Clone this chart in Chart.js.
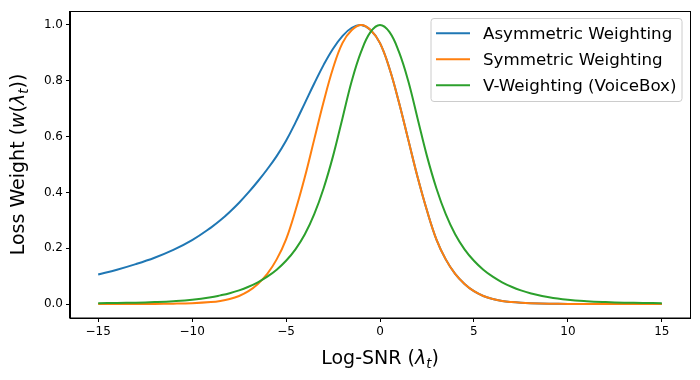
<!DOCTYPE html>
<html>
<head>
<meta charset="utf-8">
<script src="https://cdn.jsdelivr.net/npm/chart.js@4/dist/chart.umd.min.js"></script>
<style>
  body { margin: 0; background: #fff; }
  #wrap { width: 700px; height: 380px; }
</style>
</head>
<body>
<div id="wrap"><canvas id="myChart" width="700" height="380"></canvas></div>
<script>
// data
var lambdas = [-15, -14, -13, -12, -11, -10, -9, -8.5, -8, -7.5, -7, -6.5, -6, -5.5, -5, -4.5, -4, -3.5, -3, -2.5, -2, -1.5, -1,
    -0.5, 0, 0.5, 1, 1.5, 2, 2.5, 3, 3.5, 4, 4.5, 5, 5.5, 6, 6.5, 7, 7.5, 8, 9, 10, 11, 12, 13, 14, 15];

var asymWeight = [0.106, 0.123, 0.143, 0.166, 0.194, 0.229, 0.274, 0.30, 0.33, 0.363, 0.40, 0.44, 0.483, 0.53, 0.585, 0.65, 0.72, 0.79, 0.857, 0.915, 0.96, 0.99, 1.0,
    0.982, 0.935, 0.845, 0.725, 0.59, 0.455, 0.335, 0.232, 0.16, 0.108, 0.072, 0.046, 0.029, 0.018, 0.011, 0.007, 0.0045, 0.003, 0.0013, 0.0006, 0.0003, 0.0001, 0, 0, 0];

var symWeight = [0, 0.0001, 0.0003, 0.0006, 0.0013, 0.003, 0.007, 0.011, 0.018, 0.029, 0.046, 0.072, 0.108, 0.16, 0.232, 0.335, 0.455, 0.59, 0.725, 0.845, 0.935, 0.982, 1.0,
    0.982, 0.935, 0.845, 0.725, 0.59, 0.455, 0.335, 0.232, 0.16, 0.108, 0.072, 0.046, 0.029, 0.018, 0.011, 0.007, 0.0045, 0.003, 0.0013, 0.0006, 0.0003, 0.0001, 0, 0, 0];

var vWeight = [0.003, 0.004, 0.005, 0.007, 0.01, 0.015, 0.024, 0.031, 0.039, 0.049, 0.062, 0.078, 0.098, 0.123, 0.155, 0.196, 0.25, 0.322, 0.415, 0.53, 0.665, 0.80, 0.905,
    0.975, 1.0, 0.975, 0.905, 0.80, 0.665, 0.53, 0.415, 0.322, 0.25, 0.196, 0.155, 0.123, 0.098, 0.078, 0.062, 0.049, 0.039, 0.024, 0.015, 0.01, 0.007, 0.005, 0.004, 0.003];

var seriesNames = ['Asymmetric Weighting', 'Symmetric Weighting', 'V-Weighting (VoiceBox)'];
var seriesColors = ['#1f77b4', '#ff7f0e', '#2ca02c'];
var xTicks = [-15, -10, -5, 0, 5, 10, 15];
var yTicks = [0, 0.2, 0.4, 0.6, 0.8, 1.0];

function points(ys) {
    return lambdas.map(function(x, i) { return {x: x, y: ys[i]}; });
}

// text with italic / subscript parts (matplotlib mathtext look)
function drawRich(ctx, parts, size) {
    var total = 0;
    parts.forEach(function(p) {
        var s = p.sub ? size * 0.7 : size;
        ctx.font = (p.italic ? 'italic ' : '') + s + 'px "DejaVu Sans"';
        p.w = ctx.measureText(p.t).width;
        total += p.w;
    });
    var x = -total / 2;
    parts.forEach(function(p) {
        var s = p.sub ? size * 0.7 : size;
        ctx.font = (p.italic ? 'italic ' : '') + s + 'px "DejaVu Sans"';
        ctx.fillText(p.t, x, p.sub ? size * 0.22 : 0);
        x += p.w;
    });
}

var xTitle = [{t: 'Log-SNR ('}, {t: 'λ', italic: true}, {t: 't', italic: true, sub: true}, {t: ')'}];
var yTitle = [{t: 'Loss Weight ('}, {t: 'w', italic: true}, {t: '('}, {t: 'λ', italic: true}, {t: 't', italic: true, sub: true}, {t: '))'}];

var extras = {
    id: 'extras',
    afterDraw: function(chart) {
        var ctx = chart.ctx;
        var a = chart.chartArea;
        ctx.save();
        // frame
        ctx.strokeStyle = '#000';
        ctx.lineWidth = 1;
        ctx.strokeRect(Math.round(a.left) - 0.5, Math.round(a.top) + 0.5, Math.round(a.right - a.left) + 1, Math.round(a.bottom - a.top) - 0.5);

        // legend box
        var lx = 431, ly = 18.5, lw = 251, lh = 83;
        ctx.beginPath();
        ctx.roundRect(lx, ly, lw, lh, 3);
        ctx.fillStyle = 'rgba(255,255,255,0.8)';
        ctx.fill();
        ctx.strokeStyle = '#cccccc';
        ctx.stroke();
        ctx.font = '16.7px "DejaVu Sans"';
        ctx.textBaseline = 'alphabetic';
        chart.data.datasets.forEach(function(ds, i) {
            var ry = 33.3 + i * 26;
            ctx.strokeStyle = ds.borderColor;
            ctx.lineWidth = 2;
            ctx.beginPath();
            ctx.moveTo(436, ry);
            ctx.lineTo(470, ry);
            ctx.stroke();
            ctx.fillStyle = '#000';
            ctx.fillText(ds.label, 483, ry + 6);
        });

        // axis titles
        ctx.fillStyle = '#000';
        ctx.textBaseline = 'alphabetic';
        ctx.save();
        ctx.translate((a.left + a.right) / 2, 364);
        drawRich(ctx, xTitle, 19);
        ctx.restore();
        ctx.save();
        ctx.translate(24, (a.top + a.bottom) / 2);
        ctx.rotate(-Math.PI / 2);
        drawRich(ctx, yTitle, 19);
        ctx.restore();
        ctx.restore();
    }
};

var tickFont = {family: 'DejaVu Sans', size: 12};

var ctx = document.getElementById('myChart').getContext('2d');
var chart = new Chart(ctx, {
    type: 'line',
    data: {
        datasets: [asymWeight, symWeight, vWeight].map(function(ys, i) {
            return {
                label: seriesNames[i],
                data: points(ys),
                borderColor: seriesColors[i],
                backgroundColor: seriesColors[i],
                borderWidth: 2,
                pointRadius: 0,
                fill: false,
                tension: 0.4,
                order: 2 - i
            };
        })
    },
    options: {
        responsive: false,
        animation: false,
        devicePixelRatio: 1,
        layout: {padding: {left: 0, right: 10, top: 11, bottom: 0}},
        plugins: {legend: {display: false}, tooltip: {enabled: false}},
        scales: {
            x: {
                type: 'linear',
                min: -16.5,
                max: 16.5,
                afterBuildTicks: function(s) { s.ticks = xTicks.map(function(v) { return {value: v}; }); },
                afterFit: function(s) { s.height = 62; },
                ticks: {
                    color: '#000', font: tickFont, padding: 3, maxRotation: 0,
                    callback: function(v) { return v < 0 ? '\u2212' + Math.abs(v) : String(v); }
                },
                grid: {drawOnChartArea: false, drawTicks: true, tickLength: 4, color: '#000'},
                border: {color: '#000', width: 1}
            },
            y: {
                min: -0.05,
                max: 1.05,
                afterBuildTicks: function(s) { s.ticks = yTicks.map(function(v) { return {value: v}; }); },
                afterFit: function(s) { s.width = 70; },
                ticks: {
                    color: '#000', font: tickFont, padding: 3,
                    callback: function(v) { return v.toFixed(1); }
                },
                grid: {drawOnChartArea: false, drawTicks: true, tickLength: 4, color: '#000'},
                border: {color: '#000', width: 1}
            }
        }
    },
    plugins: [extras]
});
</script>
</body>
</html>
